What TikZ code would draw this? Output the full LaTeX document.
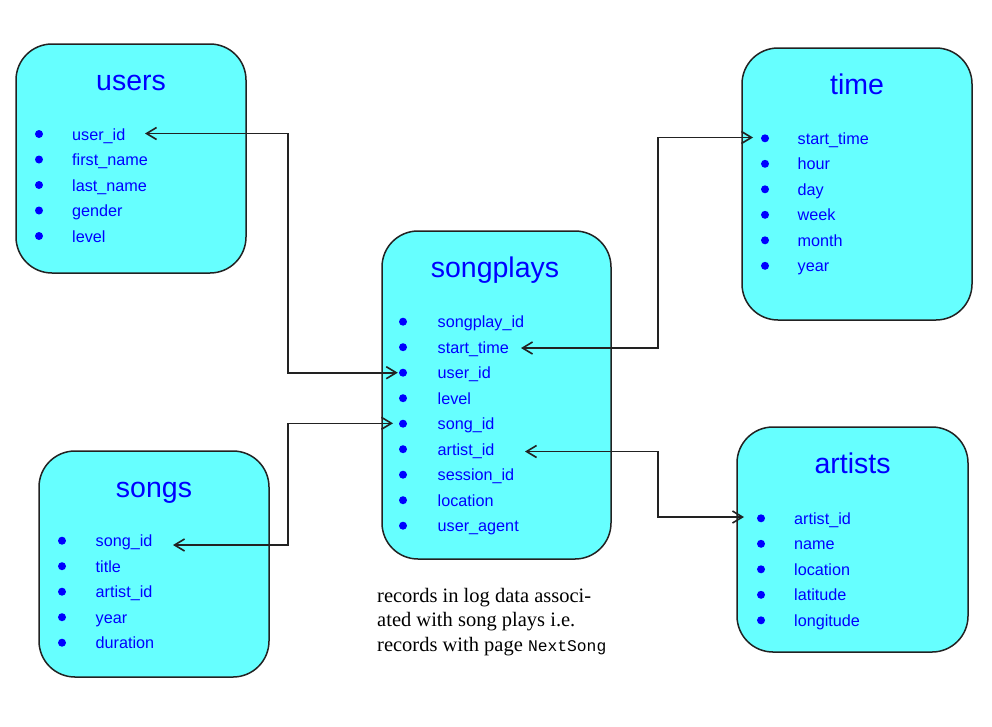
\documentclass[tikz,border=0pt]{standalone}
\usepackage{fontspec}
\setmainfont{Liberation Serif}
\setsansfont{Liberation Sans}
\setmonofont{Liberation Mono}
\usetikzlibrary{arrows.meta}
\definecolor{tblfill}{HTML}{66FFFF}
\definecolor{tblblue}{HTML}{0000FF}
\definecolor{edgecol}{HTML}{222222}
\newcommand\tblitems[5]{%
  \foreach \t [count=\i] in {#5} {
    \node[dot] (#1-b\i) at (#2,{#4+25.5*(\i-1)}) {};
    \node[item] (#1-\i) at (#3,{#4+6+25.5*(\i-1)}) {\t};
  }}
\begin{document}
\begin{tikzpicture}[x=1pt,y=-1pt,
  tbl/.style={draw=edgecol,line width=1.5pt,fill=tblfill,rounded corners=36pt,anchor=north west,inner sep=0pt,outer sep=0pt},
  ttl/.style={font=\sffamily\fontsize{28.5}{30}\selectfont,text=tblblue,anchor=base,inner sep=0pt},
  item/.style={font=\sffamily\fontsize{16.2}{18}\selectfont,text=tblblue,anchor=base west,inner sep=0pt},
  dot/.style={circle,fill=tblblue,inner sep=0pt,minimum size=8pt},
  conn/.style={draw=edgecol,line width=1.6pt,{Straight Barb[length=10pt,width=12pt]}-{Straight Barb[length=10pt,width=12pt]}},
  captxt/.style={font=\fontsize{20.5}{24.5}\selectfont,anchor=base west,inner sep=0pt}]
\path[use as bounding box,fill=white] (0,0) rectangle (992,726);

% tables
\node[tbl,minimum width=230pt,minimum height=229pt] (users) at (16,44) {};
\node[tbl,minimum width=230pt,minimum height=272pt] (time) at (742,48) {};
\node[tbl,minimum width=229pt,minimum height=328pt] (songplays) at (382,231) {};
\node[tbl,minimum width=231pt,minimum height=225pt] (artists) at (737,427) {};
\node[tbl,minimum width=230pt,minimum height=226pt] (songs) at (39,451) {};

% titles
\node[ttl] (users-t) at (131,90) {users};
\node[ttl] (time-t) at (857,94) {time};
\node[ttl] (songplays-t) at (495,277) {songplays};
\node[ttl] (artists-t) at (852.5,473) {artists};
\node[ttl] (songs-t) at (154,497) {songs};

% items
\tblitems{users}{39}{72}{134}{user\_id,first\_name,last\_name,gender,level}
\tblitems{time}{765}{797.5}{138.3}{start\_time,hour,day,week,month,year}
\tblitems{sp}{403}{437.5}{321.7}{songplay\_id,start\_time,user\_id,level,song\_id,artist\_id,session\_id,location,user\_agent}
\tblitems{artists}{761}{794}{518.3}{artist\_id,name,location,latitude,longitude}
\tblitems{songs}{62}{95.5}{540.7}{song\_id,title,artist\_id,year,duration}

% connector columns and tips
\coordinate (colL) at (288,0);
\coordinate (colR) at (658,0);
\coordinate (uTip) at (145,133.5);
\coordinate (spuTip) at ([xshift=-1pt]sp-b3.west);
\coordinate (soTip) at (173,545);
\coordinate (spsTip) at (393,423.3);
\coordinate (spstTip) at (521,348);
\coordinate (tTip) at (753,137.5);
\coordinate (spaTip) at (525,451.5);
\coordinate (aTip) at (744,517);

\draw[conn] (uTip) -- (uTip -| colL) |- (spuTip);
\draw[conn] (soTip) -- (soTip -| colL) |- (spsTip);
\draw[conn] (spstTip) -- (spstTip -| colR) |- (tTip);
\draw[conn] (spaTip) -- (spaTip -| colR) |- (aTip);

% caption
\node[captxt] (cap1) at (377,602) {records in log data associ-};
\node[captxt] (cap2) at (377,626.5) {ated with song plays i.e.};
\node[captxt] (cap3) at (377,651) {records with page {\ttfamily\fontsize{16.3}{18}\selectfont NextSong}};
\end{tikzpicture}
\end{document}
